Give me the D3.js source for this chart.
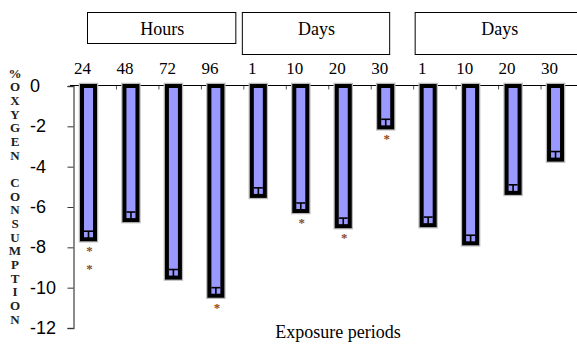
<!DOCTYPE html>
<html>
<head>
<meta charset="utf-8">
<script src="https://cdn.jsdelivr.net/npm/d3@7"></script>
<style>
html,body{margin:0;padding:0;background:#fff;}
svg{display:block;}
</style>
</head>
<body>
<svg id="chart" width="577" height="345"></svg>
<script>
// ---- data ----
const categories = ["24","48","72","96","1","10","20","30","1","10","20","30"];
const values = [-7.6,-6.65,-9.5,-10.4,-5.45,-6.2,-6.95,-2.05,-6.9,-7.8,-5.3,-3.65];
const errors = [0.4,0.4,0.4,0.4,0.4,0.4,0.4,0.4,0.4,0.4,0.4,0.4];
const stars = [2,0,0,1,0,1,1,1,0,0,0,0];
const yTicks = [0,-2,-4,-6,-8,-10,-12];
const groupLabels = ["Hours","Days","Days"];
const groupFrom = [0,4,8];
const groupTo = [3,7,11];
const yTitle = "%OXYGEN CONSUMPTION";
const xTitle = "Exposure periods";

// ---- layout ----
const svg = d3.select("#chart");
const idx = d3.range(categories.length);
const x = d3.scaleBand().domain(idx).range([73.5, 583]).padding(0);
const y = d3.scaleLinear().domain([-12, 0]).range([328, 86]);
const barOff = 15;      // bar centre from band start
const barW = 13;        // rect width (stroke adds 4)
const serif = "'Liberation Serif','Times New Roman',serif";
const sans = "'Liberation Sans',Arial,sans-serif";

// group header boxes (annotation layout)
const boxPad = [[13.5,-8,31],[-1.5,-24,42],[1.5,0,42]];
groupLabels.forEach((g,i)=>{
  const x0 = x(groupFrom[i]) + boxPad[i][0];
  const x1 = (groupTo[i]+1 < categories.length ? x(groupTo[i]+1) : x(groupTo[i]) + x.bandwidth()) + boxPad[i][1];
  svg.append("rect").attr("x",x0+0.5).attr("y",12.5).attr("width",x1-x0).attr("height",boxPad[i][2])
    .attr("fill","#fff").attr("stroke","#000").attr("stroke-width",1);
  svg.append("text").attr("x",(x0+x1)/2+1).attr("y",35).attr("text-anchor","middle")
    .attr("font-family",serif).attr("font-size",18).attr("fill","#000").text(g);
});

// top category labels
svg.append("g").selectAll("text").data(idx).join("text")
  .attr("x",i=>x(i)+barOff-6).attr("y",74).attr("text-anchor","middle")
  .attr("font-family",serif).attr("font-size",17).attr("fill","#000")
  .text(i=>categories[i]);

// y axis
const yAxis = d3.axisLeft(y).tickValues(yTicks).tickSize(6).tickFormat("");
const gy = svg.append("g").attr("transform","translate(73.5,0)").call(yAxis);
gy.select(".domain").attr("stroke","#666").attr("stroke-width",1.5);
gy.selectAll(".tick line").attr("stroke","#333");
svg.append("g").selectAll("text").data(yTicks).join("text")
  .attr("x",30).attr("y",d=>y(d)+6).attr("text-anchor","start")
  .attr("font-family",sans).attr("font-size",18).attr("fill","#000")
  .text(d=>d);

// top x axis line with category ticks
const xAxis = d3.axisBottom(d3.scaleLinear().domain([0,categories.length]).range([73.5,583]))
  .tickValues(d3.range(1,categories.length)).tickSize(4).tickFormat("");
const gx = svg.append("g").attr("transform","translate(0,85.5)").call(xAxis);
gx.select(".domain").remove();
gx.selectAll(".tick line").attr("stroke","#555");
svg.append("line").attr("x1",70).attr("x2",577).attr("y1",85.5).attr("y2",85.5)
  .attr("stroke","#000").attr("stroke-width",1);

// bars
const bars = svg.append("g");
idx.forEach(i=>{
  const cx = x(i)+barOff;
  const top = y(0), bot = y(values[i]);
  bars.append("rect").attr("x",cx-barW/2).attr("y",top).attr("width",barW).attr("height",bot-top)
    .attr("fill","none").attr("stroke","#bbb").attr("stroke-width",6.5);
  bars.append("rect").attr("x",cx-barW/2).attr("y",top).attr("width",barW).attr("height",bot-top)
    .attr("fill","#9999ff").attr("stroke","#000").attr("stroke-width",4);
  // error bar
  const ye = y(values[i]+errors[i]);
  bars.append("line").attr("x1",cx-barW/2+2).attr("x2",cx+barW/2-2).attr("y1",ye).attr("y2",ye)
    .attr("stroke","#000").attr("stroke-width",1.6);
  bars.append("line").attr("x1",cx).attr("x2",cx).attr("y1",ye).attr("y2",bot)
    .attr("stroke","#000").attr("stroke-width",1.6);
  // significance marks
  for(let k=0;k<stars[i];k++){
    svg.append("text").attr("x",cx+1).attr("y",bot+16+k*18).attr("text-anchor","middle")
      .attr("font-family",serif).attr("font-size",13).attr("font-weight","bold")
      .attr("fill","#8a4a20").text("*");
  }
});

// y title (stacked letters)
const letters = Array.from(yTitle);
svg.append("g").selectAll("text").data(letters).join("text")
  .attr("x",15).attr("y",(d,i)=>77.5+i*13.68).attr("text-anchor","middle")
  .attr("font-family",serif).attr("font-size",13).attr("font-weight","bold").attr("fill","#222")
  .text(d=>d===" "?"":d);

// x title
svg.append("text").attr("x",338).attr("y",338).attr("text-anchor","middle")
  .attr("font-family",serif).attr("font-size",18).attr("fill","#000").text(xTitle);
</script>
</body>
</html>
